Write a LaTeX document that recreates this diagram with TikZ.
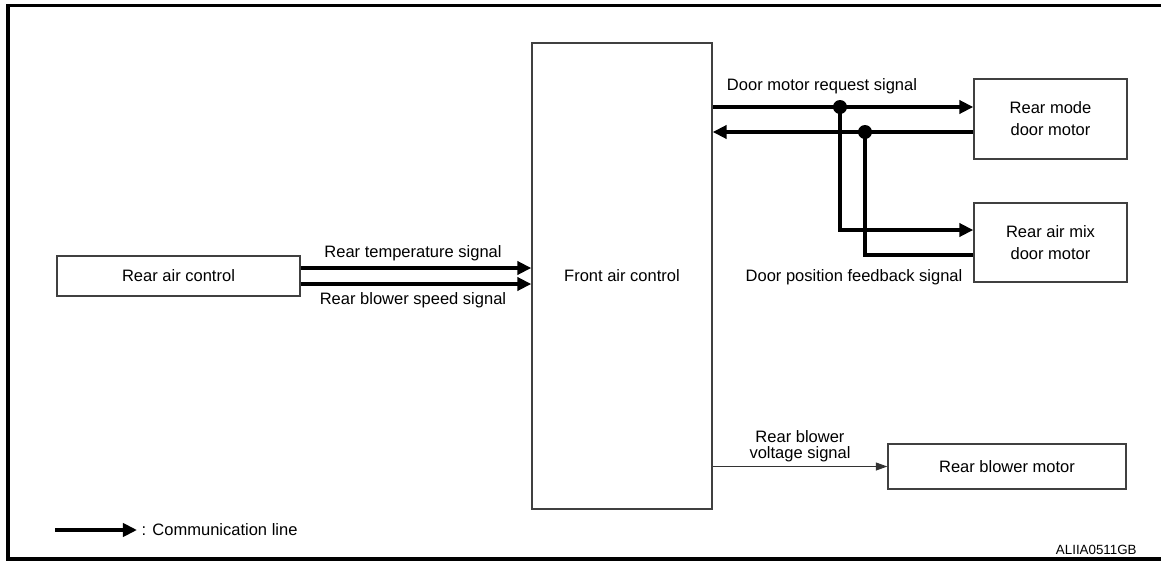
\documentclass[tikz,border=0pt]{standalone}
\usepackage{fontspec}
\setmainfont{Liberation Sans}
\usetikzlibrary{arrows.meta,positioning,calc}

\begin{document}
\begin{tikzpicture}[
    x=0.02cm, y=-0.02cm,
    unit/.style={draw=black!75, line width=0.8pt, align=center, inner sep=0pt, font=\fontsize{9.4}{12.5}\selectfont},
    lbl/.style={align=center, inner sep=0pt, font=\fontsize{9.4}{9.4}\selectfont},
    comm/.style={-{Triangle[length=8pt, width=7.5pt]}, line width=2.6pt},
    bus/.style={line width=2.6pt},
    wire/.style={-{Triangle[length=6.5pt, width=4.5pt]}, line width=0.7pt, color=black!80},
    joint/.style={fill=black}
]
\useasboundingbox (0,0) rectangle (1161,561);

% frame
\draw[line width=1.8pt] (1161,5.5) -- (8,5.5) -- (8,559) -- (1161,559);

% units
\node[unit, minimum width=4.86cm, minimum height=0.8cm] (rac) at (178.5,276) {Rear air control};
\node[unit, minimum width=3.6cm, minimum height=9.32cm] (fac) at (622,276) {Front air control};
\node[unit, minimum width=3.06cm, minimum height=1.6cm] (rmd) at (1050.5,119) {Rear mode\\door motor};
\node[unit, minimum width=3.06cm, minimum height=1.58cm] (amd) at (1050.5,242.5) {Rear air mix\\door motor};
\node[unit, minimum width=4.76cm, minimum height=0.9cm] (rbm) at (1007,466.5) {Rear blower motor};

% rear air control -> front air control
\draw[comm] ($(rac.east)+(0,-8)$) -- ($(rac.east -| fac.west)+(0,-8)$);
\draw[comm] ($(rac.east)+(0,8)$) -- ($(rac.east -| fac.west)+(0,8)$);
\node[lbl] (tmp) at (413,253) {Rear temperature signal};
\node[lbl] (spd) at (413,300) {Rear blower speed signal};

% door motors
\coordinate (rq) at ($(rmd.west)+(0,-12)$);
\coordinate (fb) at ($(rmd.west)+(0,13)$);
\coordinate (j1) at (840,107);
\coordinate (j2) at (865,132);
\draw[comm] (fac.east |- rq) -- (rq);
\draw[comm] (fb) -- (fac.east |- fb);
\draw[comm] (j1) |- ($(amd.west)+(0,-12.5)$);
\draw[bus] (j2) |- ($(amd.west)+(0,12.5)$);
\fill[joint] (j1) circle[radius=0.14cm];
\fill[joint] (j2) circle[radius=0.14cm];
\node[lbl] (req) at (822,86) {Door motor request signal};
\node[lbl] (pos) at (854,277) {Door position feedback signal};

% blower
\draw[wire] (fac.east |- rbm) -- (rbm.west);
\node[lbl] (volt) at (800,446) {Rear blower\\voltage signal};

% legend
\node[lbl, anchor=west, inner xsep=2.5pt] (leg) at (137,530) {: Communication line};
\coordinate (legs) at (55,530);
\draw[comm] (legs) -- (leg.west);
\node[anchor=east, inner sep=0pt, font=\fontsize{7.6}{9}\selectfont] (code) at (1137,550) {ALIIA0511GB};

\end{tikzpicture}
\end{document}
